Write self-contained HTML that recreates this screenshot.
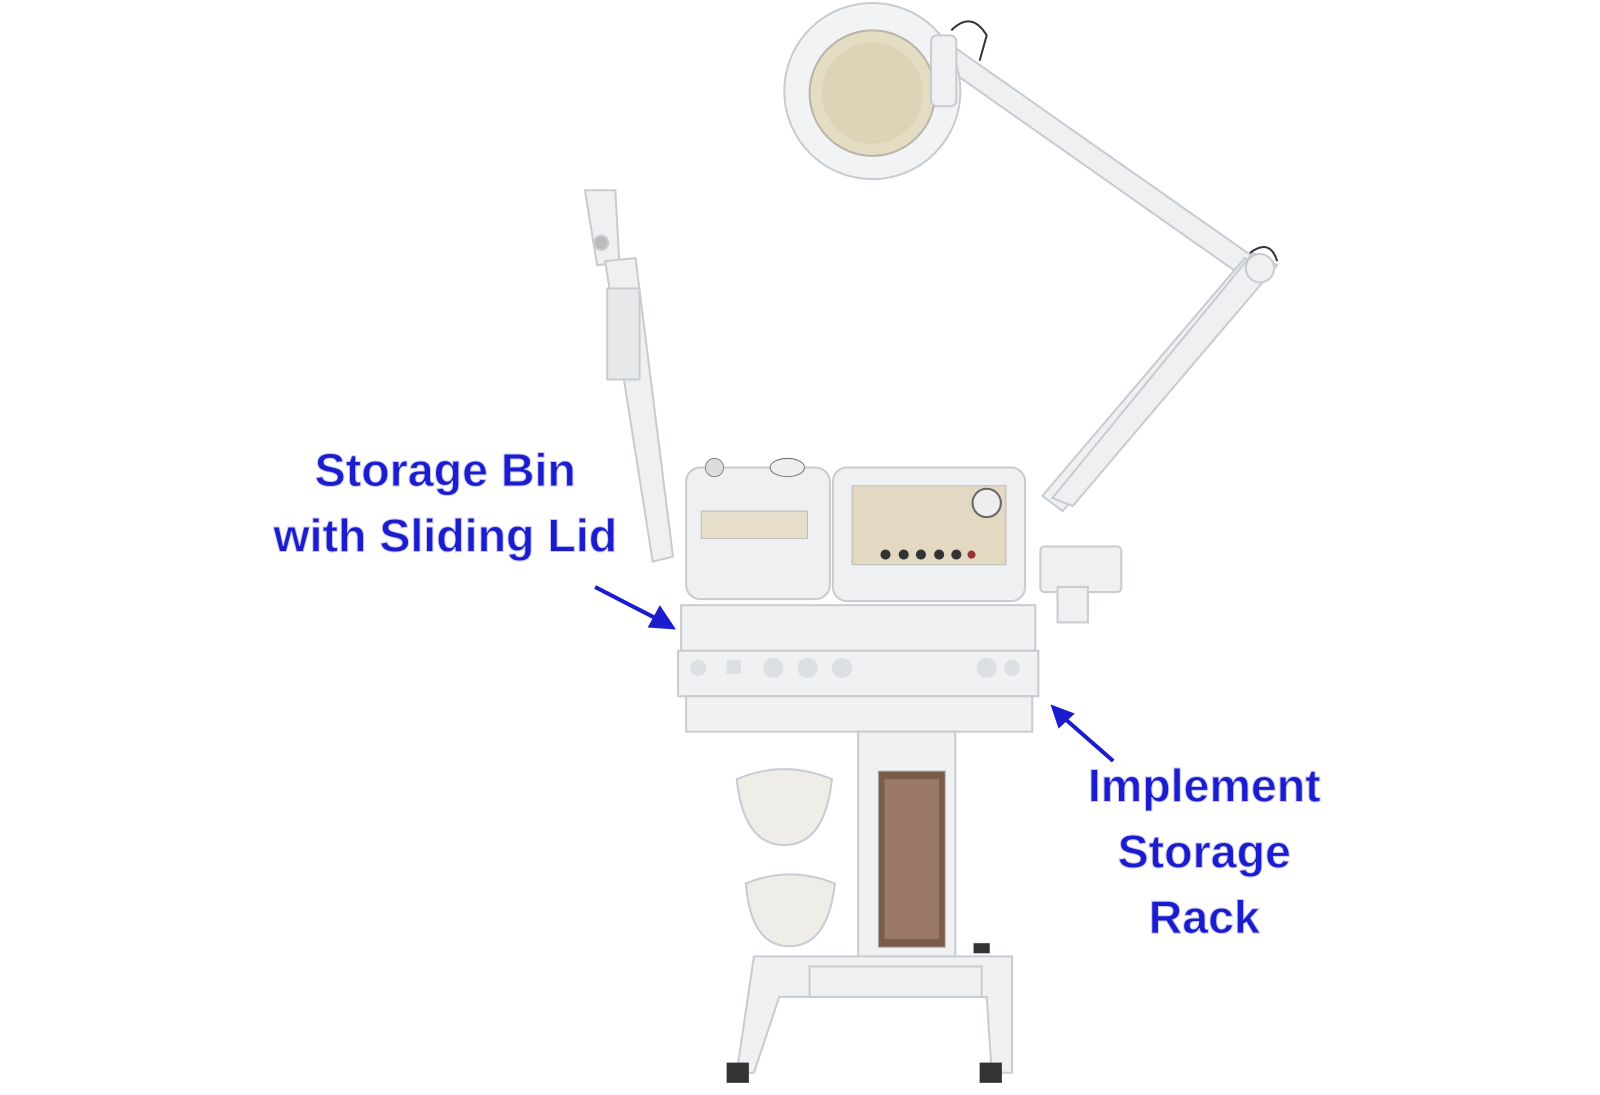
<!DOCTYPE html>
<html><head><style>
body{margin:0;background:#fff;}
svg{display:block}
.t{font-family:"Liberation Sans",sans-serif;font-weight:bold;font-size:46px;fill:#1c1ccf;stroke:#c9c9f0;stroke-width:1;text-anchor:middle}
</style></head><body>
<svg width="1600" height="1095" viewBox="0 0 1600 1095" xmlns="http://www.w3.org/2000/svg">
<rect width="1600" height="1095" fill="#fff"/>
<g transform="scale(1.012)">
<g stroke="#c8cbd0" fill="#eef0f2" stroke-width="2">
<polygon points="925,60 945,48 1250,262 1235,278"/>
<polygon points="1230,255 1255,270 1050,505 1030,490"/>
<polygon points="1238,250 1262,262 1060,500 1040,492"/>
<circle cx="1245" cy="265" r="14"/>
<path d="M940,30 Q960,10 975,35 L968,60" fill="none" stroke="#333" stroke-width="2"/>
<path d="M1235,250 Q1255,235 1262,258" fill="none" stroke="#333" stroke-width="2"/>
<circle cx="862" cy="90" r="87" fill="#f2f3f4"/>
<circle cx="862" cy="92" r="62" fill="#e4ddc4" stroke="#b8b5a8"/>
<circle cx="862" cy="92" r="50" fill="#ddd4b8" stroke="none"/>
<rect x="920" y="35" width="25" height="70" rx="6"/>
<polygon points="578,188 608,188 612,260 590,262"/>
<polygon points="598,258 628,255 665,550 645,555"/>
<rect x="600" y="285" width="32" height="90" fill="#e6e8ea"/>
<circle cx="594" cy="240" r="7" fill="#bbb"/>
<rect x="678" y="462" width="142" height="130" rx="14"/>
<rect x="823" y="462" width="190" height="132" rx="14"/>
<rect x="1028" y="540" width="80" height="45" rx="4"/>
<rect x="1045" y="580" width="30" height="35"/>
</g>
<circle cx="706" cy="462" r="9" fill="#ddd" stroke="#888"/>
<ellipse cx="778" cy="462" rx="17" ry="9" fill="#eee" stroke="#777"/>
<rect x="693" y="505" width="105" height="27" fill="#e7dfcc" stroke="#bbb"/>
<rect x="842" y="480" width="152" height="78" fill="#e3d9c2" stroke="#bbb"/>
<circle cx="975" cy="497" r="14" fill="#eee" stroke="#666" stroke-width="2"/>
<g fill="#333">
<circle cx="875" cy="548" r="5"/><circle cx="893" cy="548" r="5"/><circle cx="910" cy="548" r="5"/><circle cx="928" cy="548" r="5"/><circle cx="945" cy="548" r="5"/>
<circle cx="960" cy="548" r="4" fill="#933"/>
</g>
<g stroke="#c8cbd0" fill="#f0f1f3" stroke-width="2">
<rect x="673" y="598" width="350" height="45"/>
<rect x="670" y="643" width="356" height="45"/>
<rect x="678" y="688" width="342" height="35"/>
<rect x="848" y="723" width="96" height="232"/>
<polygon points="745,945 1000,945 1000,1060 980,1060 975,985 770,985 745,1060 728,1060"/>
<rect x="800" y="955" width="170" height="30"/>
<path d="M728,770 Q775,750 822,770 Q815,835 775,835 Q735,835 728,770Z" fill="#efede8"/>
<path d="M737,873 Q780,855 825,873 Q818,935 780,935 Q742,935 737,873Z" fill="#efede8"/>
</g>
<rect x="868" y="762" width="66" height="174" fill="#7a5c4a" stroke="#aaa"/>
<rect x="874" y="770" width="54" height="158" fill="#9a7a66"/>
<rect x="718" y="1050" width="22" height="20" fill="#333"/>
<rect x="968" y="1050" width="22" height="20" fill="#333"/>
<rect x="962" y="932" width="16" height="10" fill="#333"/>
<g fill="#dcdfe3">
<circle cx="690" cy="660" r="8"/><rect x="718" y="652" width="14" height="14"/>
<circle cx="764" cy="660" r="10"/><circle cx="798" cy="660" r="10"/><circle cx="832" cy="660" r="10"/>
<circle cx="975" cy="660" r="10"/><circle cx="1000" cy="660" r="8"/>
</g>
<text class="t" x="440" y="480">Storage Bin</text>
<text class="t" x="440" y="545">with Sliding Lid</text>
<text class="t" x="1190" y="792">Implement</text>
<text class="t" x="1190" y="857">Storage</text>
<text class="t" x="1190" y="922">Rack</text>
<g stroke="#1c1ccf" stroke-width="4" fill="#1c1ccf">
<line x1="588" y1="580" x2="650" y2="612"/>
<polygon points="668,622 640,620 652,598" stroke="none"/>
<line x1="1100" y1="752" x2="1052" y2="710"/>
<polygon points="1038,696 1062,705 1046,720" stroke="none"/>
</g>
</g>
</svg>
</body></html>
